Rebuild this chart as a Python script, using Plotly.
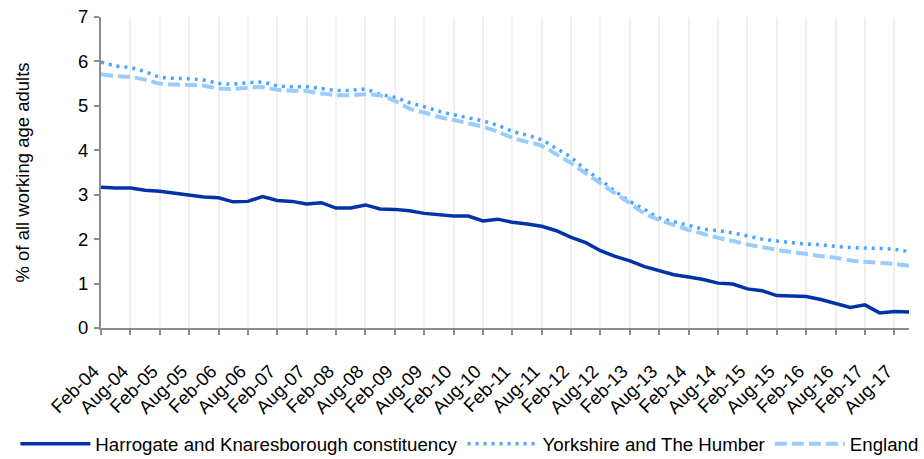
import plotly.graph_objects as go

years = list(range(4, 18))
quarters = [f"{m}-{y:02d}" for y in years for m in ["Feb", "May", "Aug", "Nov"]]
tick_labels = [f"{m}-{y:02d}" for y in years for m in ["Feb", "Aug"]]

harrogate = [3.17, 3.15, 3.15, 3.10, 3.08, 3.03, 2.98, 2.95, 2.93, 2.84, 2.85, 2.96, 2.87, 2.85,
             2.79, 2.82, 2.70, 2.70, 2.77, 2.68, 2.67, 2.64, 2.58, 2.55, 2.52, 2.52, 2.41, 2.45,
             2.38, 2.34, 2.29, 2.19, 2.04, 1.92, 1.74, 1.61, 1.51, 1.38, 1.28, 1.20, 1.15, 1.09,
             1.01, 0.99, 0.88, 0.84, 0.73, 0.72, 0.71, 0.64, 0.55, 0.46, 0.52, 0.34, 0.37, 0.36]
yorkshire = [5.99, 5.90, 5.86, 5.77, 5.65, 5.62, 5.61, 5.58, 5.51, 5.49, 5.52, 5.53, 5.45, 5.43,
             5.43, 5.39, 5.35, 5.35, 5.37, 5.26, 5.19, 5.07, 4.98, 4.88, 4.80, 4.73, 4.66, 4.56,
             4.43, 4.34, 4.23, 4.04, 3.84, 3.56, 3.33, 3.08, 2.85, 2.67, 2.48, 2.39, 2.31, 2.23,
             2.19, 2.14, 2.07, 2.00, 1.96, 1.92, 1.89, 1.87, 1.84, 1.81, 1.80, 1.79, 1.77, 1.72]
england = [5.71, 5.67, 5.65, 5.59, 5.50, 5.48, 5.47, 5.45, 5.39, 5.38, 5.41, 5.42, 5.36, 5.34,
           5.33, 5.28, 5.24, 5.24, 5.26, 5.23, 5.11, 4.94, 4.85, 4.75, 4.68, 4.61, 4.53, 4.42,
           4.28, 4.19, 4.10, 3.91, 3.71, 3.48, 3.26, 3.03, 2.81, 2.58, 2.43, 2.32, 2.21, 2.12,
           2.03, 1.96, 1.88, 1.82, 1.76, 1.71, 1.67, 1.62, 1.58, 1.52, 1.49, 1.47, 1.44, 1.40]

x = list(range(len(quarters)))
tick_pos = [x[quarters.index(t)] for t in tick_labels]
tick_text = [t + "\u00a0\u00a0" for t in tick_labels]

fig = go.Figure()
fig.add_trace(go.Scatter(x=x, y=harrogate, mode="lines", name="Harrogate and Knaresborough constituency",
                         line=dict(color="#0033AA", width=3.5)))
fig.add_trace(go.Scatter(x=x, y=yorkshire, mode="lines", name="Yorkshire and The Humber",
                         line=dict(color="#4DA3FF", width=3.5, dash="3px,5px"), line_shape="spline"))
fig.add_trace(go.Scatter(x=x, y=england, mode="lines", name="England",
                         line=dict(color="#99CCFF", width=4, dash="12px,5px"), line_shape="spline"))

font_family = "Liberation Sans, Arial, sans-serif"
fig.update_layout(
    width=924, height=459,
    margin=dict(l=101, r=15, t=17, b=131, autoexpand=False),
    paper_bgcolor="white", plot_bgcolor="white",
    font=dict(family=font_family, size=18, color="#000000"),
    showlegend=True,
    legend=dict(orientation="h", x=-0.106, xanchor="left", y=-0.373, yanchor="middle",
                font=dict(size=18.7), itemwidth=70, tracegroupgap=0, bgcolor="rgba(0,0,0,0)"),
    xaxis=dict(range=[0, len(x) - 1], tickmode="array", tickvals=tick_pos, ticktext=tick_text,
               tickangle=-45, showgrid=True, gridcolor="#EFEFEF", gridwidth=2,
               showline=True, linecolor="#8C8C8C", linewidth=2, ticks="outside", ticklen=5,
               tickcolor="#8C8C8C", tickwidth=1.5, ticklabelstandoff=11, zeroline=False,
               automargin=False, tickfont=dict(size=18.5)),
    yaxis=dict(range=[0, 7], dtick=1, tick0=0, showgrid=False, zeroline=False,
               showline=True, linecolor="#8C8C8C", linewidth=2, ticks="outside", ticklen=5,
               tickcolor="#8C8C8C", tickwidth=1.5, ticklabelstandoff=2, automargin=False,
               title=dict(text="% of all working age adults", font=dict(size=18.5), standoff=44),
               tickfont=dict(size=18.5)),
)

fig.write_html("out.html", config={"displayModeBar": False},
               post_script="document.body.style.margin='0';document.body.style.overflow='hidden';")
